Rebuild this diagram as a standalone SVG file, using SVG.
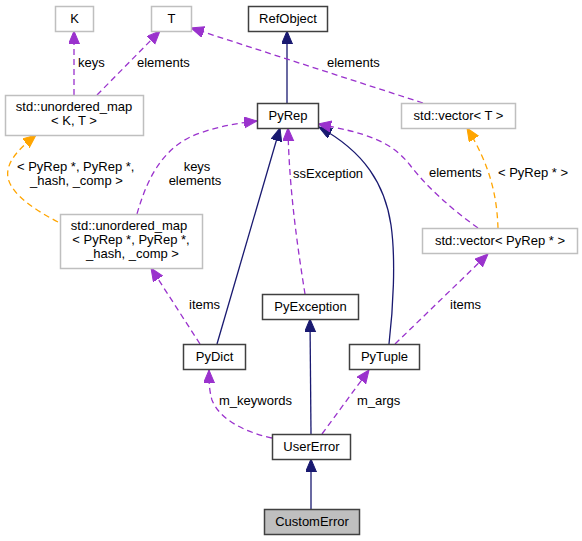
<svg xmlns="http://www.w3.org/2000/svg" width="582" height="541" viewBox="0 0 582 541">
<style>
text{font-family:"Liberation Sans",Arial,sans-serif;font-size:13px;fill:#000}
.n rect{fill:#fff;stroke:#404040;stroke-width:1.5}
.g rect{fill:#fff;stroke:#bfbfbf;stroke-width:1.5}
.c rect{fill:#bfbfbf;stroke:#404040;stroke-width:1.5}
.n text,.g text,.c text{text-anchor:middle}
.inh{fill:none;stroke:#191970;stroke-width:1.3;marker-end:url(#an)}
.use{fill:none;stroke:#9a32cd;stroke-width:1.3;stroke-dasharray:6,4;marker-end:url(#ap)}
.tpl{fill:none;stroke:#ffa500;stroke-width:1.3;stroke-dasharray:6,4;marker-end:url(#ao)}
</style>
<defs>
<marker id="an" markerUnits="userSpaceOnUse" markerWidth="14" markerHeight="12" refX="13" refY="5.5" orient="auto"><path d="M0,0 L13,5.5 L0,11 z" fill="#191970" stroke="#191970" stroke-width="1"/></marker>
<marker id="ap" markerUnits="userSpaceOnUse" markerWidth="14" markerHeight="12" refX="13" refY="5.5" orient="auto"><path d="M0,0 L13,5.5 L0,11 z" fill="#9a32cd" stroke="#9a32cd" stroke-width="1"/></marker>
<marker id="ao" markerUnits="userSpaceOnUse" markerWidth="14" markerHeight="12" refX="13" refY="5.5" orient="auto"><path d="M0,0 L13,5.5 L0,11 z" fill="#ffa500" stroke="#ffa500" stroke-width="1"/></marker>
</defs>
<g id="edges">
<path class="inh" d="M287,103 L287,31"/>
<path class="inh" d="M217,344 L280,128"/>
<path class="inh" d="M389,344 C393,310 396,260 391,225 C385,185 365,152 319,127"/>
<path class="use" d="M305,294 C298,250 289,190 288,128"/>
<text x="293" y="178">ssException</text>
<path class="use" d="M137,214 C148,175 165,145 200,133 C220,126 238,123 257,121"/>
<text x="197" y="171" text-anchor="middle">keys</text>
<text x="195" y="185" text-anchor="middle">elements</text>
<path class="use" d="M478,228 C450,208 425,185 410,165 C390,140 365,133 318,124"/>
<text x="429" y="177">elements</text>
<path class="use" d="M423,103 L191,28"/>
<text x="327" y="67">elements</text>
<path class="use" d="M74,95 L74,31"/>
<text x="78" y="67">keys</text>
<path class="use" d="M97,95 L160,31"/>
<text x="137" y="67">elements</text>
<path class="tpl" d="M58,222 C35,210 12,195 8,178 C5,162 20,148 36,135"/>
<text x="17" y="171">&lt; PyRep *, PyRep *,</text>
<text x="30" y="185">_hash, _comp &gt;</text>
<path class="tpl" d="M498,228 C497,200 492,168 467,128"/>
<text x="498" y="177">&lt; PyRep * &gt;</text>
<path class="use" d="M395,344 L488,254"/>
<text x="450" y="309">items</text>
<path class="use" d="M200,344 L151,268"/>
<text x="189" y="309">items</text>
<path class="inh" d="M311,434 L310,319"/>
<path class="inh" d="M311,509 L311,459"/>
<path class="use" d="M272,438 C245,432 220,420 212,400 C209,390 209,380 209,370"/>
<text x="219" y="405">m_keywords</text>
<path class="use" d="M322,434 L369,370"/>
<text x="357" y="405">m_args</text>
</g>
<g id="K" class="g"><rect x="55.5" y="6.5" width="38" height="25"/><text x="74.5" y="23">K</text></g>
<g id="T" class="g"><rect x="151.5" y="6.5" width="40" height="25"/><text x="171.5" y="23">T</text></g>
<g id="RefObject" class="n"><rect x="248.5" y="6.5" width="79" height="25"/><text x="288" y="23">RefObject</text></g>
<g id="PyRep" class="n"><rect x="257.5" y="103.5" width="61" height="25"/><text x="288" y="120">PyRep</text></g>
<g id="unordered_map_KT" class="g"><rect x="5.5" y="95.5" width="138" height="40"/><text x="74" y="111">std::unordered_map</text><text x="74" y="125">&lt; K, T &gt;</text></g>
<g id="vector_T" class="g"><rect x="401.5" y="103.5" width="114" height="25"/><text x="458.5" y="120">std::vector&lt; T &gt;</text></g>
<g id="unordered_map_PyRep" class="g"><rect x="60.5" y="214.5" width="142" height="54"/><text x="129" y="230">std::unordered_map</text><text x="131" y="244">&lt; PyRep *, PyRep *,</text><text x="132.5" y="258">_hash, _comp &gt;</text></g>
<g id="vector_PyRep" class="g"><rect x="422.5" y="228.5" width="155" height="25"/><text x="500" y="245">std::vector&lt; PyRep * &gt;</text></g>
<g id="PyException" class="n"><rect x="262.5" y="294.5" width="96" height="25"/><text x="310.5" y="311">PyException</text></g>
<g id="PyDict" class="n"><rect x="183.5" y="344.5" width="62" height="25"/><text x="214.5" y="361">PyDict</text></g>
<g id="PyTuple" class="n"><rect x="349.5" y="344.5" width="70" height="25"/><text x="384.5" y="361">PyTuple</text></g>
<g id="UserError" class="n"><rect x="272.5" y="434.5" width="78" height="25"/><text x="311.5" y="451">UserError</text></g>
<g id="CustomError" class="c"><rect x="264.5" y="509.5" width="95" height="25"/><text x="312" y="526">CustomError</text></g>
</svg>
